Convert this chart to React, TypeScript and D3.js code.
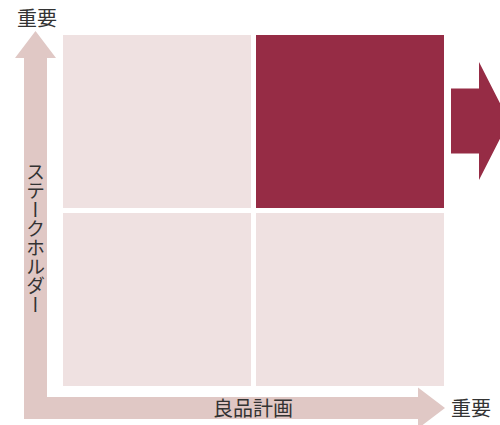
import React from "react";
import * as d3 from "d3";

const W = 500;
const H = 425;

// Matrix cells: column (x: 良品計画), row (y: ステークホルダー), highlighted?
const cols = ["低", "高"];
const rows = ["高", "低"];
const cellCol = ["低", "高", "低", "高"];
const cellRow = ["高", "高", "低", "低"];
const cellHighlight = [false, true, false, false];

const xLabel = "良品計画";
const yLabel = "ステークホルダー";
const endLabel = "重要";

const LIGHT = "#efe1e1";
const DARK = "#962c45";
const ARROW = "#e0c8c5";
const TEXT = "#333333";
const FONT = "'Noto Sans CJK JP', 'Noto Sans', sans-serif";

export default function App() {
  const x = d3.scaleBand<string>().domain(cols).range([63, 444]).paddingInner(5 / 193);
  const y = d3.scaleBand<string>().domain(rows).range([35, 386]).paddingInner(5 / 178);

  // L-shaped axis arrow
  const ax = 24, axW = 23, ay = 419, ayW = 22;
  const headHalf = 20.5, headLen = 27;
  const topTip = 31, rightTip = 445;
  const cx = ax + axW / 2;
  const cy = ay - ayW / 2;
  const lp = d3.path();
  lp.moveTo(cx, topTip);
  lp.lineTo(cx + headHalf, topTip + headLen);
  lp.lineTo(ax + axW, topTip + headLen);
  lp.lineTo(ax + axW, ay - ayW);
  lp.lineTo(rightTip - headLen, ay - ayW);
  lp.lineTo(rightTip - headLen, cy - headHalf);
  lp.lineTo(rightTip, cy);
  lp.lineTo(rightTip - headLen, cy + headHalf);
  lp.lineTo(rightTip - headLen, ay);
  lp.lineTo(ax, ay);
  lp.lineTo(ax, topTip + headLen);
  lp.lineTo(cx - headHalf, topTip + headLen);
  lp.closePath();

  // Right side block arrow (pointing out of highlighted cell)
  const hiIdx = cellHighlight.indexOf(true);
  const hy = y(cellRow[hiIdx])!;
  const hcy = hy + y.bandwidth() / 2 - 0.5;
  const rp = d3.path();
  const sx = 451, hx = 479, tip = 509, sh = 32.5, hh = 59;
  rp.moveTo(sx, hcy - sh);
  rp.lineTo(hx, hcy - sh);
  rp.lineTo(hx, hcy - hh);
  rp.lineTo(tip, hcy);
  rp.lineTo(hx, hcy + hh);
  rp.lineTo(hx, hcy + sh);
  rp.lineTo(sx, hcy + sh);
  rp.closePath();

  return (
    <div style={{ position: "absolute", left: 0, top: 0 }}>
      <svg width={W} height={H} style={{ display: "block", fontFamily: FONT }}>
        <rect width={W} height={H} fill="#ffffff" />
        {cellCol.map((c, i) => (
          <rect
            key={i}
            x={x(c)}
            y={y(cellRow[i])}
            width={x.bandwidth()}
            height={y.bandwidth()}
            fill={cellHighlight[i] ? DARK : LIGHT}
          />
        ))}
        <path d={lp.toString()} fill={ARROW} />
        <path d={rp.toString()} fill={DARK} />
        <text x={37} y={26} fontSize={20} fill={TEXT} textAnchor="middle">
          {endLabel}
        </text>
        <text x={471} y={416} fontSize={20} fill={TEXT} textAnchor="middle">
          {endLabel}
        </text>
        <text x={253} y={416} fontSize={20} fill={TEXT} textAnchor="middle">
          {xLabel}
        </text>
        <text
          x={cx}
          y={162}
          fontSize={19}
          fill={TEXT}
          style={{ writingMode: "vertical-rl", textOrientation: "upright" } as any}
        >
          {yLabel}
        </text>
      </svg>
    </div>
  );
}
